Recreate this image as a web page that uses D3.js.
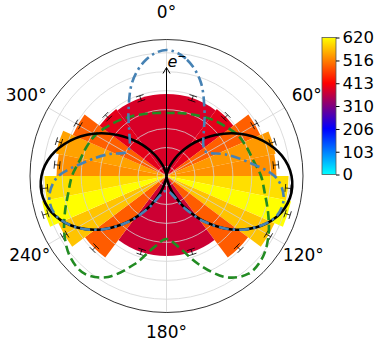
<!DOCTYPE html>
<html><head><meta charset="utf-8">
<script src="https://cdn.jsdelivr.net/npm/d3@7"></script>
<style>body{margin:0;background:#fff}svg{display:block}text{font-family:"DejaVu Sans",sans-serif;fill:#000}</style>
</head><body><svg id="c" width="382" height="350"></svg>
<script>
// ---------- data ----------
const binEdges = [0,36.9,53.1,66.4,78.5,90,101.5,113.6,126.9,143.1,180,216.9,233.1,246.4,258.5,270,281.5,293.6,306.9,323.1,360];
const barValues = [382,392,490,537,530,594,620,572,488,372, 372,488,572,620,594,530,545,490,392,382];
const barErrors = [14,14,14,14,14,14,14,14,14,14, 14,14,14,14,14,14,14,14,14,14];
const rTicks = [0,100,200,300,400,500,600];
const rDomain = [-50, 670];
const thetaTicks = [0,60,120,180,240,300];
const cbarTicks = [0,103,206,310,413,516,620];
const curveAngles = [0,10,20,30,40,50,60,70,80,90,100,110,120,130,140,150,160,170,180];
// normalised theory curves, 0..180 deg (mirror-symmetric about the e- axis)
const blackCurve = [0,.024,.094,.205,.347,.507,.670,.816,.929,.992,.995,.936,.818,.657,.473,.291,.138,.036,0];
const blueCurve  = [1,.937,.794,.603,.460,.381,.373,.500,.651,.857,.944,.929,.817,.659,.476,.302,.175,.127,.119];
const greenCurve = [.500,.508,.524,.548,.579,.611,.651,.675,.700,.750,.792,.858,.935,.998,1.012,.925,.745,.575,.500];
const curveMax = 1.083;
const cmapStops = [0,1/3,1/2,2/3,1];
const cmapColors = ["#00ffff","#0000ff","#800080","#ff0000","#ffff00"];
const vMax = 620;

// ---------- layout ----------
const cx = 166.5, cy = 176, R = 136.5;
const svg = d3.select("#c");
const g = svg.append("g").attr("transform", `translate(${cx},${cy})`);
const rad = d => d * Math.PI / 180;
const r = d3.scaleLinear().domain(rDomain).range([0, R]);
const rc = d3.scaleLinear().domain([0, curveMax]).range([0, R]);
const color = d3.scaleLinear().domain(cmapStops.map(s => s * vMax)).range(cmapColors).clamp(true);

// bars
const bars = barValues.map((v, i) => ({a0: binEdges[i], a1: binEdges[i+1], v, e: barErrors[i]}));
const arc = d3.arc();
g.selectAll("path.bar").data(bars).join("path").attr("class","bar")
  .attr("d", d => arc({innerRadius: 0, outerRadius: r(d.v), startAngle: rad(d.a0), endAngle: rad(d.a1)}))
  .attr("fill", d => color(d.v));

// grid
g.selectAll("circle.grid").data(rTicks).join("circle").attr("class","grid")
  .attr("r", d => r(d)).attr("fill","none").attr("stroke","#d3d3d3").attr("stroke-width",0.8);
g.selectAll("line.tgrid").data(thetaTicks).join("line").attr("class","tgrid")
  .attr("x1",0).attr("y1",0)
  .attr("x2", d => R*Math.sin(rad(d))).attr("y2", d => -R*Math.cos(rad(d)))
  .attr("stroke","#d3d3d3").attr("stroke-width",0.8);
g.append("circle").attr("r", R).attr("fill","none").attr("stroke","#000").attr("stroke-width",0.8);

// error bars
const eb = g.append("g").attr("stroke","#000").attr("stroke-width",0.8).attr("fill","none");
bars.forEach(d => {
  const t = rad((d.a0 + d.a1) / 2), s = Math.sin(t), c = Math.cos(t);
  const r0 = r(d.v - d.e), r1 = r(d.v + d.e), cap = 4;
  eb.append("line").attr("x1", r0*s).attr("y1", -r0*c).attr("x2", r1*s).attr("y2", -r1*c);
  [r0, r1].forEach(rr => eb.append("line")
    .attr("x1", rr*s - cap*c).attr("y1", -rr*c - cap*s)
    .attr("x2", rr*s + cap*c).attr("y2", -rr*c + cap*s));
});

// curves (full 0..360 built by mirroring the 0..180 readings)
const full = arr => {
  const right = curveAngles.map((a, i) => [rad(a), arr[i]]);
  const left = curveAngles.slice(1).map((a, i) => [rad(180 + a), arr[arr.length - 2 - i]]);
  return right.concat(left);
};
const lineOpen = d3.lineRadial().angle(d => d[0]).radius(d => rc(d[1])).curve(d3.curveCardinal);
const lineClosed = d3.lineRadial().angle(d => d[0]).radius(d => rc(d[1])).curve(d3.curveCardinalClosed);
g.append("path").attr("d", lineClosed(full(greenCurve).slice(0,-1)))
  .attr("fill","none").attr("stroke","#228b22").attr("stroke-width",2.6).attr("stroke-dasharray","9,4.5");
const bp = full(blackCurve);
[bp.slice(0,19), bp.slice(18)].forEach(seg =>
  g.append("path").attr("d", lineOpen(seg)).attr("fill","none").attr("stroke","#000").attr("stroke-width",2.6));
g.append("path").attr("d", lineClosed(full(blueCurve).slice(0,-1)))
  .attr("fill","none").attr("stroke","#4682b4").attr("stroke-width",2.6).attr("stroke-dasharray","10,4,2.5,4");

// arrow e-
const ay = -108.5;
g.append("line").attr("x1",0).attr("y1",0).attr("x2",0).attr("y2",ay).attr("stroke","#000").attr("stroke-width",1);
g.append("path").attr("d",`M-3.5,${ay+6}L0,${ay}L3.5,${ay+6}`).attr("fill","none").attr("stroke","#000").attr("stroke-width",1);
const et = g.append("text").attr("x",1).attr("y",ay-1).attr("font-size",16);
et.append("tspan").attr("font-style","italic").text("e");
et.append("tspan").attr("dy",-7).attr("font-size",11).text("\u2212");

// theta labels
g.selectAll("text.tl").data(thetaTicks).join("text").attr("class","tl")
  .attr("x", d => (160 + 4*Math.cos(rad(d))) * Math.sin(rad(d)))
  .attr("y", d => -(160 + 4*Math.cos(rad(d))) * Math.cos(rad(d)))
  .attr("text-anchor","middle").attr("dominant-baseline","central").attr("font-size",17)
  .text(d => d + "\u00b0");

// colorbar
const cbx = 322, cby = 37.5, cbw = 14, cbh = 137;
const grad = svg.append("defs").append("linearGradient").attr("id","cg")
  .attr("x1",0).attr("y1",1).attr("x2",0).attr("y2",0);
grad.selectAll("stop").data(cmapStops).join("stop")
  .attr("offset", d => d).attr("stop-color", (d, i) => cmapColors[i]);
svg.append("rect").attr("x",cbx).attr("y",cby).attr("width",cbw).attr("height",cbh)
  .attr("fill","url(#cg)").attr("stroke","#555").attr("stroke-width",0.8);
const cy2 = d3.scaleLinear().domain([0, vMax]).range([cby + cbh, cby]);
const ax = d3.axisRight(cy2).tickValues(cbarTicks).tickSize(3.5).tickPadding(3).tickFormat(d3.format("d"));
const axg = svg.append("g").attr("transform",`translate(${cbx + cbw},0)`).call(ax);
axg.select(".domain").remove();
axg.selectAll("text").attr("font-size",16.5).attr("font-family","DejaVu Sans, sans-serif");
</script></body></html>
